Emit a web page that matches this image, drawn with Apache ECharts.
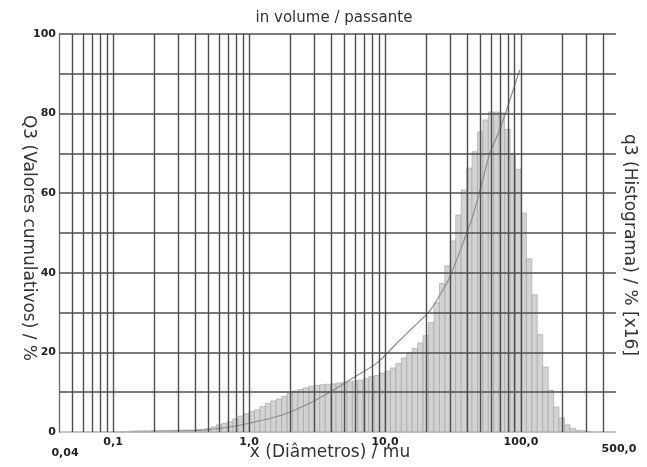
<!DOCTYPE html>
<html>
<head>
<meta charset="utf-8">
<script src="https://cdn.jsdelivr.net/npm/echarts@6/dist/echarts.min.js"></script>
<style>
html,body{margin:0;padding:0;background:#fff;}
#chart{width:647px;height:467px;}
</style>
</head>
<body>
<div id="chart"></div>
<script>
// ---- data ----
// class-limit mantissas within one decade (25 classes per decade)
const classMantissa = [1.0, 1.096, 1.202, 1.318, 1.445, 1.585, 1.738, 1.905, 2.089, 2.291, 2.512, 2.754, 3.02, 3.311, 3.631, 3.981, 4.365, 4.786, 5.248, 5.754, 6.31, 6.918, 7.586, 8.318, 9.12];
const classDecades = [0.1, 1, 10, 100];
// histogram q3 (x16) per class, one list per decade
const hist_0_1 = [0, 0, 0.1, 0.2, 0.3, 0.3, 0.3, 0.4, 0.4, 0.4, 0.4, 0.4, 0.5, 0.5, 0.5, 0.6, 0.7, 0.9, 1.3, 1.8, 2.2, 2.6, 3.3, 4.0, 4.6];
const hist_1 = [5.2, 5.6, 6.4, 7.2, 7.8, 8.3, 9.0, 9.8, 10.3, 10.7, 11.1, 11.5, 11.7, 11.9, 12.0, 12.1, 12.3, 12.4, 12.6, 12.8, 13.0, 13.4, 13.9, 14.2, 14.8];
const hist_10 = [15.3, 16.1, 17.2, 18.6, 19.9, 21.0, 22.4, 24.2, 27.5, 32.5, 37.3, 41.8, 48.0, 54.5, 60.8, 66.3, 70.4, 75.4, 78.4, 80.4, 80.4, 80.2, 76.0, 70.0, 66.0];
const hist_100 = [55, 43.5, 34.5, 24.5, 16.3, 10.5, 6.3, 3.5, 1.8, 0.9, 0.4, 0.3, 0.2];
// cumulative Q3
const cumX = [0.13, 0.2, 0.44, 0.7, 1.0, 1.8, 2.7, 3.7, 4.9, 6.5, 8.7, 12.2, 16.3, 21.4, 27.5, 30, 38, 44, 52, 59, 70, 83, 98];
const cumY = [0, 0.1, 0.4, 1.2, 2.2, 4.4, 7.0, 9.5, 12.0, 14.6, 17.3, 22.3, 26.5, 30.5, 36.5, 39, 48, 54, 63, 70, 76, 83.5, 91];
// axis ticks
const xTickValues = [0.04, 0.1, 1, 10, 100, 500];
const xTickLabels = ['0,04', '0,1', '1,0', '10,0', '100,0', '500,0'];
const yTickLabels = [0, 20, 40, 60, 80, 100];
const vGridLines = [0.05, 0.06, 0.07, 0.08, 0.09, 0.1, 0.2, 0.3, 0.4, 0.5, 0.6, 0.7, 0.8, 0.9, 1, 2, 3, 4, 5, 6, 7, 8, 9, 10, 20, 30, 40, 50, 60, 70, 80, 90, 100, 200, 300, 400];

// ---- build ----
const histLists = [hist_0_1, hist_1, hist_10, hist_100];
const histData = [];
classDecades.forEach((d, di) => {
  histLists[di].forEach((v, k) => {
    const lo = d * classMantissa[k];
    const hi = k < classMantissa.length - 1 ? d * classMantissa[k + 1] : d * 10;
    histData.push([lo, hi, v]);
  });
});
const cumData = cumX.map((x, i) => [x, cumY[i]]);

const FONT = 'DejaVu Sans';
const chart = echarts.init(document.getElementById('chart'), null, {renderer: 'canvas'});
const gridColors = ['#b5b5b5'].concat(new Array(10).fill('#4e4e4e'));

chart.setOption({
  animation: false,
  backgroundColor: '#ffffff',
  grid: {left: 59, right: 31, top: 34, bottom: 35, containLabel: false},
  xAxis: {
    type: 'log', logBase: 10, min: 0.04, max: 500,
    axisLine: {show: false},
    axisTick: {show: false},
    splitLine: {show: false},
    minorSplitLine: {show: false},
    axisLabel: {
      margin: 5,
      showMinLabel: true, showMaxLabel: true,
      formatter: function (v) {
        for (let i = 0; i < xTickValues.length; i++) {
          if (Math.abs(v - xTickValues[i]) / xTickValues[i] < 1e-6) {
            const t = xTickLabels[i];
            if (i === 0) return '{lo|' + t + '}';
            if (i === xTickValues.length - 1) return '{hi|' + t + '}';
            return '{n|' + t + '}';
          }
        }
        return '';
      },
      rich: {
        n: {fontFamily: FONT, fontWeight: 'bold', fontSize: 11, color: '#222'},
        lo: {fontFamily: FONT, fontWeight: 'bold', fontSize: 11, color: '#222', padding: [11, 0, 0, 12]},
        hi: {fontFamily: FONT, fontWeight: 'bold', fontSize: 11, color: '#222', padding: [7, 0, 0, 6]}
      }
    }
  },
  yAxis: {
    type: 'value', min: 0, max: 100, interval: 10,
    z: 5,
    axisLine: {show: true, lineStyle: {color: '#6a6a6a', width: 1.3}},
    axisTick: {show: false},
    splitLine: {show: true, lineStyle: {color: gridColors, width: 1.5}},
    axisLabel: {
      margin: 3,
      fontFamily: FONT, fontWeight: 'bold', fontSize: 11, color: '#222',
      formatter: function (v) { return yTickLabels.indexOf(v) >= 0 ? String(v) : ''; }
    }
  },
  graphic: [
    {type: 'text', x: 334, y: 18, style: {text: 'in volume / passante', font: '15px "DejaVu Sans"', fill: '#333', align: 'center', verticalAlign: 'middle'}},
    {type: 'text', x: 330, y: 453, style: {text: 'x (Diâmetros) / mu', font: '17px "DejaVu Sans"', fill: '#333', align: 'center', verticalAlign: 'middle'}},
    {type: 'text', x: 28, y: 238, rotation: -Math.PI / 2, style: {text: 'Q3 (Valores cumulativos) / %', font: '17px "DejaVu Sans"', fill: '#333', align: 'center', verticalAlign: 'middle'}},
    {type: 'text', x: 629, y: 245, rotation: -Math.PI / 2, style: {text: 'q3 (Histograma) / % [x16]', font: '17px "DejaVu Sans"', fill: '#333', align: 'center', verticalAlign: 'middle'}}
  ],
  series: [
    {
      type: 'custom', name: 'q3', z: 2,
      data: histData,
      encode: {x: [0, 1], y: 2},
      renderItem: function (params, api) {
        const p0 = api.coord([api.value(0), api.value(2)]);
        const p1 = api.coord([api.value(1), 0]);
        return {
          type: 'rect',
          shape: {x: p0[0], y: p0[1], width: p1[0] - p0[0], height: p1[1] - p0[1]},
          style: {fill: '#d3d3d3', stroke: '#a0a0a0', lineWidth: 0.6}
        };
      }
    },
    {
      type: 'line', name: 'Q3', z: 3,
      data: cumData, smooth: 0.3, symbol: 'none',
      lineStyle: {color: '#8c8c8c', width: 1.2}
    },
    {
      type: 'line', name: 'grid', z: 6, data: [], silent: true,
      markLine: {
        silent: true, symbol: 'none', animation: false,
        label: {show: false},
        lineStyle: {color: '#4e4e4e', width: 1.4, type: 'solid'},
        data: vGridLines.map(v => ({xAxis: v}))
      }
    }
  ]
});
</script>
</body>
</html>
